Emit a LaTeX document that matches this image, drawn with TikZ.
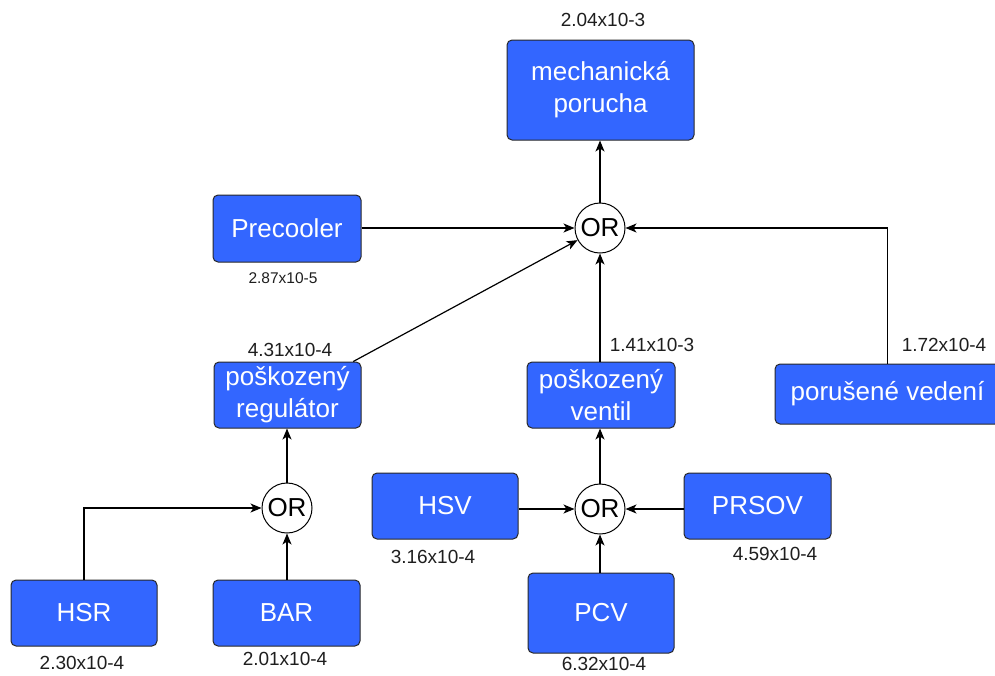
\documentclass[tikz,border=0pt]{standalone}
\usepackage{fontspec}
\setmainfont{Liberation Sans}
\usetikzlibrary{arrows.meta}
\definecolor{boxblue}{RGB}{51,102,255}
\definecolor{edgegray}{RGB}{40,40,40}
\definecolor{labelgray}{RGB}{30,30,30}
\begin{document}
\begin{tikzpicture}[x=1pt,y=-1pt,
  event/.style={draw=edgegray, line width=1pt, fill=boxblue, rounded corners=5pt,
    text=white, font=\fontsize{26}{32}\selectfont, align=center, inner sep=0pt},
  gate/.style={circle, draw=black, fill=white, line width=1pt, minimum size=50pt,
    inner sep=0pt, font=\fontsize{26}{30}\selectfont},
  prob/.style={text=labelgray, font=\fontsize{19}{22}\selectfont, inner sep=0pt},
  probsmall/.style={prob, font=\fontsize{15.5}{18}\selectfont},
  link/.style={line width=1.2pt, draw=black,
    -{Stealth[length=11pt,width=9pt,inset=3pt]}}]
\clip (0,0) rectangle (995,675);

% top event and main OR gate
\node[event, minimum width=187pt, minimum height=100pt] (mech) at (600.5,90) {mechanická\\porucha};
\node[gate] (or1) at (600,228) {OR};
\node[event, minimum width=148pt, minimum height=67pt] (pre) at (287,228.5) {Precooler};
\node[event, minimum width=147pt, minimum height=66pt] (reg) at (287.5,395) {poškozený\\regulátor};
\node[event, minimum width=148pt, minimum height=66pt] (ven) at (601,395) {poškozený\\ventil};
\node[event, minimum width=225pt, minimum height=60pt] (ved) at (887.5,394) {porušené vedení};

% regulator branch
\node[gate] (or2) at (287,508) {OR};
\node[event, minimum width=146pt, minimum height=66pt] (hsr) at (84,613) {HSR};
\node[event, minimum width=147pt, minimum height=66pt] (bar) at (286.5,613) {BAR};

% valve branch
\node[gate] (or3) at (600,509) {OR};
\node[event, minimum width=146pt, minimum height=66pt] (hsv) at (445,506) {HSV};
\node[event, minimum width=147pt, minimum height=66pt] (prs) at (757.5,506) {PRSOV};
\node[event, minimum width=146pt, minimum height=80pt] (pcv) at (601,613) {PCV};

% probabilities
\node[prob] (pmech) at (603,20) {2.04x10-3};
\node[probsmall] (ppre) at (283,278) {2.87x10-5};
\node[prob] (preg) at (290,350) {4.31x10-4};
\node[prob] (pven) at (652,345) {1.41x10-3};
\node[prob] (pved) at (944,345) {1.72x10-4};
\node[prob] (phsr) at (82,663) {2.30x10-4};
\node[prob] (pbar) at (285,659) {2.01x10-4};
\node[prob] (phsv) at (433,557) {3.16x10-4};
\node[prob] (pprs) at (775,554) {4.59x10-4};
\node[prob] (ppcv) at (604,664) {6.32x10-4};

% connectors
\draw[link] (or1) -- (or1 |- mech.south);
\draw[link] (pre.east |- or1) -- (or1);
\draw[link] (reg.27) -- (or1);
\draw[link] (or1 |- ven.north) -- (or1);
\draw[link] (ved.north) |- (or1);

\draw[link] (or2) -- (or2 |- reg.south);
\draw[link] (hsr.north) |- (or2);
\draw[link] (or2 |- bar.north) -- (or2);

\draw[link] (or3) -- (or3 |- ven.south);
\draw[link] (hsv.east |- or3) -- (or3);
\draw[link] (prs.west |- or3) -- (or3);
\draw[link] (or3 |- pcv.north) -- (or3);
\end{tikzpicture}
\end{document}
